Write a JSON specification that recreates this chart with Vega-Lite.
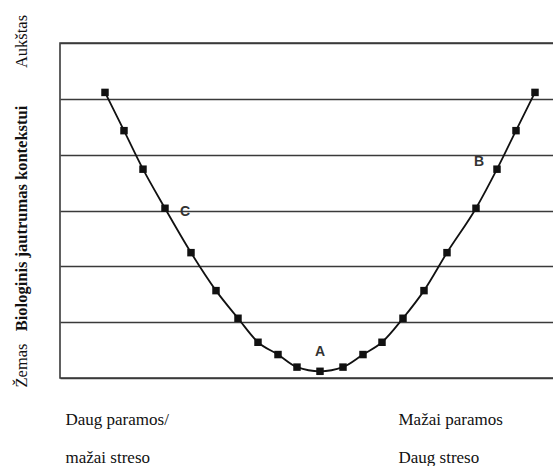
{
  "$schema": "https://vega.github.io/schema/vega-lite/v6.json",
  "autosize": "none",
  "padding": {"left": 60, "top": 43, "right": 0, "bottom": 88},
  "width": 494,
  "height": 335,
  "background": "white",
  "config": {"view": {"stroke": "#3a3a3a", "strokeWidth": 1.6}},
  "datasets": {
    "curve": [
      {"x": 45, "y": 5.115}, {"x": 64, "y": 4.43}, {"x": 83, "y": 3.74}, {"x": 105, "y": 3.04},
      {"x": 131, "y": 2.245}, {"x": 156, "y": 1.565}, {"x": 178, "y": 1.07}, {"x": 198, "y": 0.64},
      {"x": 218, "y": 0.42}, {"x": 237, "y": 0.195}, {"x": 260, "y": 0.12}, {"x": 283, "y": 0.195},
      {"x": 303, "y": 0.42}, {"x": 322, "y": 0.64}, {"x": 343, "y": 1.07}, {"x": 364, "y": 1.565},
      {"x": 387, "y": 2.245}, {"x": 416, "y": 3.04}, {"x": 437, "y": 3.74}, {"x": 456, "y": 4.43},
      {"x": 475, "y": 5.115}
    ],
    "labels": [
      {"x": 125, "y": 2.98, "label": "C"},
      {"x": 260, "y": 0.47, "label": "A"},
      {"x": 419, "y": 3.87, "label": "B"}
    ]
  },
  "encoding": {
    "x": {
      "field": "x", "type": "quantitative",
      "scale": {"domain": [0, 494], "nice": false, "zero": false},
      "axis": {
        "title": null, "grid": false, "domain": false, "ticks": false, "tickSize": 0,
        "values": [5, 338],
        "labelExpr": "datum.value < 100 ? ['Daug paramos/', 'mažai streso'] : ['Mažai paramos', 'Daug streso']",
        "labelAlign": "left", "labelBaseline": "top", "labelPadding": 33,
        "labelLineHeight": 38, "labelFont": "Liberation Serif", "labelFontSize": 17,
        "labelColor": "#111", "labelOverlap": false, "labelFlush": false
      }
    },
    "y": {
      "field": "y", "type": "quantitative",
      "scale": {"domain": [0, 6], "nice": false, "zero": false},
      "axis": {
        "values": [0, 1, 2, 3, 4, 5, 6],
        "grid": true, "gridColor": "#3a3a3a", "gridWidth": 1.6, "gridOpacity": 1,
        "domain": false, "ticks": false, "tickSize": 0,
        "labelExpr": "datum.value == 6 ? 'Aukštas' : (datum.value == 0 ? 'Žemas' : '')",
        "labelAngle": -90, "labelAlign": "center", "labelBaseline": "middle",
        "labelPadding": 39,
        "labelOffset": {"condition": {"test": "datum.value == 0", "value": -13}, "value": -2},
        "labelFont": "Liberation Serif", "labelFontSize": 16.5, "labelColor": "#111",
        "labelOverlap": false, "labelFlush": false,
        "title": "Biologinis jautrumas kontekstui",
        "titleFont": "Liberation Serif", "titleFontSize": 16.5, "titleFontWeight": "bold",
        "titleColor": "#111", "titleAngle": -90, "titleAlign": "center", "titleBaseline": "middle",
        "titleX": -39, "titleY": 175
      }
    }
  },
  "layer": [
    {
      "data": {"name": "curve"},
      "mark": {"type": "line", "interpolate": "monotone", "color": "#111", "strokeWidth": 1.8}
    },
    {
      "data": {"name": "curve"},
      "mark": {"type": "point", "shape": "square", "filled": true, "size": 56, "color": "#111", "opacity": 1}
    },
    {
      "data": {"name": "labels"},
      "mark": {"type": "text", "font": "Liberation Sans", "fontSize": 14, "fontWeight": "bold", "color": "#333", "align": "center", "baseline": "middle"},
      "encoding": {"text": {"field": "label", "type": "nominal"}}
    }
  ]
}
